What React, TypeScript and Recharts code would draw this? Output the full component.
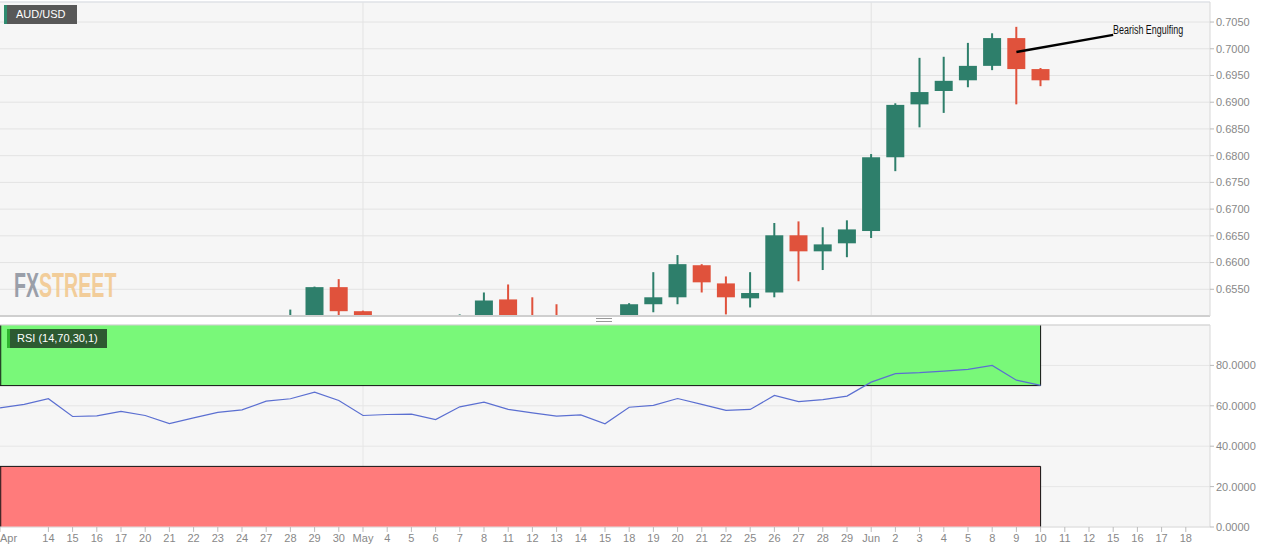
import {
  ComposedChart,
  Bar,
  Line,
  XAxis,
  YAxis,
  CartesianGrid,
  ReferenceLine,
  ReferenceArea,
  ReferenceDot,
} from "recharts";

const GREEN = "#2e7f6b";
const RED = "#e0523c";
const FONT = "'Liberation Sans', Arial, sans-serif";
const NARROW = "'Liberation Sans Narrow', 'Arial Narrow', sans-serif";

// trading days, 10 Apr .. 10 Jun 2020 (position -1 .. 42)
const dates = [
  "Apr 10", "Apr 13", "Apr 14", "Apr 15", "Apr 16", "Apr 17", "Apr 20", "Apr 21", "Apr 22", "Apr 23",
  "Apr 24", "Apr 27", "Apr 28", "Apr 29", "Apr 30", "May 1", "May 4", "May 5", "May 6", "May 7",
  "May 8", "May 11", "May 12", "May 13", "May 14", "May 15", "May 18", "May 19", "May 20", "May 21",
  "May 22", "May 25", "May 26", "May 27", "May 28", "May 29", "Jun 1", "Jun 2", "Jun 3", "Jun 4",
  "Jun 5", "Jun 8", "Jun 9", "Jun 10",
];

const open = [
  0.6365, 0.6355, 0.637, 0.6425, 0.634, 0.6345, 0.637, 0.6345, 0.629, 0.6335,
  0.637, 0.639, 0.645, 0.6475, 0.6554, 0.6509, 0.641, 0.6425, 0.6435, 0.6405,
  0.648, 0.6531, 0.649, 0.6475, 0.6455, 0.6465, 0.641, 0.6522, 0.6535, 0.6595,
  0.6561, 0.6533, 0.6544, 0.6651, 0.6621, 0.6636, 0.6659, 0.6797, 0.6896, 0.6921,
  0.6941, 0.6968, 0.702, 0.6962,
];
const high = [
  0.6385, 0.638, 0.6445, 0.643, 0.637, 0.6405, 0.6385, 0.635, 0.635, 0.64,
  0.641, 0.647, 0.6512, 0.6555, 0.6569, 0.651, 0.645, 0.6465, 0.645, 0.6503,
  0.6544, 0.6559, 0.6535, 0.6522, 0.6485, 0.647, 0.6524, 0.6582, 0.6614, 0.6597,
  0.6574, 0.6582, 0.6674, 0.6677, 0.6666, 0.6679, 0.6803, 0.6898, 0.6983, 0.6985,
  0.7011, 0.7029, 0.7041, 0.6964,
];
const low = [
  0.633, 0.633, 0.635, 0.633, 0.6265, 0.633, 0.633, 0.6255, 0.628, 0.632,
  0.635, 0.638, 0.643, 0.6465, 0.648, 0.64, 0.637, 0.64, 0.6375, 0.64,
  0.6475, 0.648, 0.6455, 0.644, 0.64, 0.64, 0.6405, 0.6507, 0.6522, 0.6544,
  0.6503, 0.6516, 0.6535, 0.6565, 0.6586, 0.661, 0.6646, 0.6771, 0.6853, 0.688,
  0.6928, 0.696, 0.6896, 0.693,
];
const close = [
  0.6355, 0.637, 0.6425, 0.634, 0.6345, 0.637, 0.6345, 0.629, 0.6335, 0.637,
  0.639, 0.645, 0.6475, 0.6554, 0.6509, 0.641, 0.6425, 0.6435, 0.6405, 0.648,
  0.6529, 0.649, 0.6475, 0.6455, 0.6465, 0.641, 0.6522, 0.6535, 0.6597, 0.6563,
  0.6535, 0.6543, 0.6651, 0.6621, 0.6634, 0.6662, 0.6797, 0.6895, 0.6919, 0.694,
  0.6968, 0.702, 0.6962, 0.6941,
];
const rsi = [
  59.0, 60.7, 63.5, 54.7, 55.0, 57.2, 55.2, 51.2, 54.0, 56.7,
  58.0, 62.3, 63.5, 66.8, 62.6, 55.2, 55.7, 55.9, 53.2, 59.5,
  61.8, 58.2, 56.5, 54.9, 55.5, 51.1, 59.3, 60.2, 63.6, 60.7,
  57.7, 58.2, 65.1, 62.1, 63.1, 64.8, 71.7, 75.9, 76.4, 77.2,
  78.0, 80.0, 72.7, 70.1,
];

// axis labels for positions -1 .. 48
const dayLabels = [
  "Apr", "", "14", "15", "16", "17", "20", "21", "22", "23", "24", "27", "28", "29", "30",
  "May", "4", "5", "6", "7", "8", "11", "12", "13", "14", "15", "18", "19", "20", "21", "22",
  "25", "26", "27", "28", "29", "Jun", "2", "3", "4", "5", "8", "9", "10", "11", "12", "15",
  "16", "17", "18",
];
const monthStarts = [14, 35];

const priceTicks = [0.655, 0.66, 0.665, 0.67, 0.675, 0.68, 0.685, 0.69, 0.695, 0.7, 0.705];
const rsiTicks = [0, 20, 40, 60, 80];

const PRICE_MIN = 0.65;
const PRICE_MAX = 0.70875;
const X_DOMAIN = [-1, 49];

const rows = dates.map((d, k) => ({
  i: k - 1,
  date: d,
  open: open[k],
  high: high[k],
  low: low[k],
  close: close[k],
  rsi: rsi[k],
}));

const xTicks = dayLabels.map((_, k) => k - 1).filter((p) => dayLabels[p + 1] !== "");

// vertical grid only at month starts
const monthLines = ({ xAxis, offset }: any) => {
  if (xAxis && typeof xAxis.scale === "function") return monthStarts.map((m) => xAxis.scale(m));
  const w = offset.width / (X_DOMAIN[1] - X_DOMAIN[0]);
  return monthStarts.map((m) => offset.left + (m - X_DOMAIN[0]) * w);
};

const Candle = (props: any) => {
  const { x, y, width, height, payload } = props;
  if (!payload || payload.open == null) return null;
  const h = Math.abs(height);
  const top0 = height < 0 ? y + height : y;
  const ratio = h / (payload.high - payload.low);
  const yOf = (v: number) => top0 + (payload.high - v) * ratio;
  const up = payload.close >= payload.open;
  const color = up ? GREEN : RED;
  const bTop = yOf(Math.max(payload.open, payload.close));
  const bBot = yOf(Math.min(payload.open, payload.close));
  const cx = x + width / 2;
  return (
    <g>
      <line x1={cx} x2={cx} y1={top0} y2={top0 + h} stroke={color} strokeWidth={2} />
      <rect x={x} y={bTop} width={width} height={Math.max(1, bBot - bTop)} fill={color} />
    </g>
  );
};

const DayTick = (props: any) => {
  const { x, y, payload } = props;
  const label = dayLabels[payload.value + 1];
  const first = payload.value === -1;
  return (
    <text x={first ? 0 : x} y={y} dy="0.71em" textAnchor={first ? "start" : "middle"} fill="#888" fontSize={11} fontFamily={FONT}>
      {label}
    </text>
  );
};

const EngulfLabel = (props: any) => {
  const { viewBox } = props;
  return (
    <text
      x={viewBox.x}
      y={viewBox.y - 1}
      fill="#111"
      fontSize={12}
      fontFamily={NARROW}
      textLength={70}
      lengthAdjust="spacingAndGlyphs"
    >
      Bearish Engulfing
    </text>
  );
};

export default function App() {
  return (
    <div style={{ position: "fixed", left: 0, top: 0, width: 1280, height: 552, background: "#fff", fontFamily: FONT }}>
      <ComposedChart width={1280} height={320} data={rows} margin={{ top: 2, right: 0, bottom: 4, left: 0 }}>
        <CartesianGrid stroke="#e3e3e3" fill="#f6f6f6" verticalCoordinatesGenerator={monthLines} />
        <XAxis dataKey="i" type="number" domain={X_DOMAIN} allowDataOverflow hide />
        <YAxis
          orientation="right"
          width={70}
          domain={[PRICE_MIN, PRICE_MAX]}
          allowDataOverflow
          ticks={priceTicks}
          tickFormatter={(v: number) => v.toFixed(4)}
          tick={{ fill: "#888", fontSize: 11, fontFamily: FONT }}
          tickSize={4}
          tickLine={{ stroke: "#bbb" }}
          axisLine={{ stroke: "#d8d8d8" }}
        />
        <ReferenceLine y={PRICE_MAX} stroke="#dde1e8" />
        <Bar
          dataKey={(d: any) => [d.low, d.high]}
          barSize={18}
          shape={<Candle />}
          isAnimationActive={false}
        />
        <ReferenceLine y={PRICE_MIN} stroke="#cfcfcf" strokeWidth={2} />
        <ReferenceLine
          segment={[
            { x: 41, y: 0.6994 },
            { x: 45, y: 0.7026 },
          ]}
          stroke="#000"
          strokeWidth={2.5}
        />
        <ReferenceDot x={45} y={0.7026} r={0.1} fill="none" stroke="none" label={<EngulfLabel />} />
      </ComposedChart>

      <div style={{ position: "absolute", left: 0, top: 322 }}>
        <ComposedChart width={1280} height={230} data={rows} margin={{ top: 3, right: 0, bottom: 0, left: 0 }}>
          <CartesianGrid stroke="#e6e6e6" fill="#f6f6f6" verticalCoordinatesGenerator={monthLines} />
          <XAxis
            dataKey="i"
            type="number"
            domain={X_DOMAIN}
            allowDataOverflow
            ticks={xTicks}
            interval={0}
            height={25}
            tick={<DayTick />}
            tickSize={5}
            tickLine={{ stroke: "#bbb" }}
            axisLine={{ stroke: "#e0e0e0" }}
          />
          <YAxis
            orientation="right"
            width={70}
            domain={[0, 100]}
            allowDataOverflow
            ticks={rsiTicks}
            tickFormatter={(v: number) => v.toFixed(4)}
            tick={{ fill: "#888", fontSize: 11, fontFamily: FONT }}
            tickSize={4}
            tickLine={{ stroke: "#bbb" }}
            axisLine={{ stroke: "#d8d8d8" }}
          />
          <ReferenceArea x1={-1} x2={42} y1={70} y2={100} fill="#79f879" fillOpacity={1} stroke="none" />
          <ReferenceArea x1={-1} x2={42} y1={0} y2={30} fill="#ff7b7b" fillOpacity={1} stroke="none" />
          <ReferenceLine segment={[{ x: -1, y: 70 }, { x: 42, y: 70 }]} stroke="#111" />
          <ReferenceLine segment={[{ x: 42, y: 70 }, { x: 42, y: 100 }]} stroke="#111" />
          <ReferenceLine segment={[{ x: -1, y: 30 }, { x: 42, y: 30 }]} stroke="#111" />
          <ReferenceLine segment={[{ x: 42, y: 0 }, { x: 42, y: 30 }]} stroke="#111" />
          <ReferenceLine segment={[{ x: -0.97, y: 70 }, { x: -0.97, y: 100 }]} stroke="#111" />
          <ReferenceLine segment={[{ x: -0.97, y: 0 }, { x: -0.97, y: 30 }]} stroke="#111" />
          <ReferenceLine y={100} stroke="#d0d0d0" />
          <Line dataKey="rsi" stroke="#5b6fd1" strokeWidth={1.2} dot={false} isAnimationActive={false} />
        </ComposedChart>
      </div>

      <div
        style={{
          position: "absolute", left: 4, top: 5, width: 70, height: 19, background: "#585858",
          borderLeft: "3px solid #2e8b6f", color: "#fff", fontSize: 11, lineHeight: "19px",
          textIndent: 9,
        }}
      >
        AUD/USD
      </div>

      <div
        style={{
          position: "absolute", left: 14, top: 265, fontSize: 35, lineHeight: "40px", fontWeight: "bold",
          fontFamily: NARROW, whiteSpace: "nowrap", transform: "scaleX(0.56)", transformOrigin: "left top",
          opacity: 0.85, letterSpacing: 0,
        }}
      >
        <span style={{ color: "#8b909c" }}>FX</span>
        <span style={{ color: "#f2c78a" }}>STREET</span>
      </div>

      <div
        style={{
          position: "absolute", left: 596, top: 318, width: 16, height: 2,
          borderTop: "1px solid #999", borderBottom: "1px solid #999",
        }}
      />

      <div
        style={{
          position: "absolute", left: 7, top: 329, width: 97, height: 19, background: "#2d5a31",
          borderLeft: "3px solid #2fb52f", color: "#fff", fontSize: 11, lineHeight: "19px", textIndent: 7,
        }}
      >
        RSI (14,70,30,1)
      </div>
    </div>
  );
}
